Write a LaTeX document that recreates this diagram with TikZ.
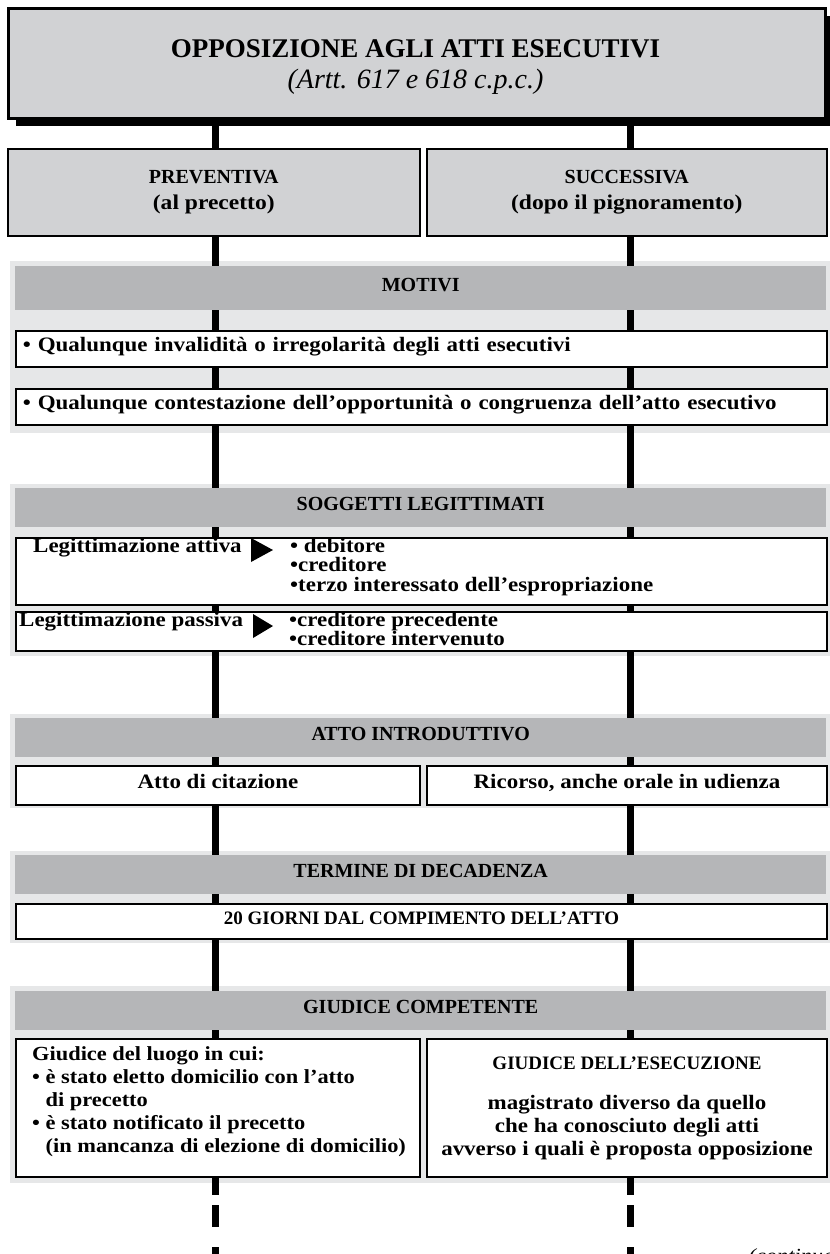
\documentclass[tikz,border=0pt]{standalone}
\usepackage{fontspec}
\setmainfont{Liberation Serif}[FakeStretch=1.12]
\newfontfamily\headfont{Liberation Serif}
\usetikzlibrary{positioning}
\usetikzlibrary{shadows}

\definecolor{titlegray}{HTML}{D1D2D4}
\definecolor{panelgray}{HTML}{E6E7E8}
\definecolor{bargray}{HTML}{B5B6B8}

\pgfdeclarelayer{panels}
\pgfdeclarelayer{lines}
\pgfsetlayers{panels,lines,main}

\begin{document}
\begin{tikzpicture}[x=1pt,y=-1pt,
  every node/.style={font=\bfseries\fontsize{20.5}{23}\selectfont},
  titlebox/.style={draw,line width=2.5pt,fill=titlegray,anchor=north west,
    minimum width=817pt,minimum height=110pt,
    drop shadow={shadow xshift=8pt,shadow yshift=-8pt,opacity=1,fill=black}},
  headbox/.style={draw,line width=1.5pt,fill=titlegray,anchor=north west,
    minimum height=87pt,align=center,font=\bfseries\fontsize{21}{26}\selectfont},
  bar/.style={fill=bargray,anchor=north west,minimum width=811pt,minimum height=39pt,
    font=\headfont\bfseries\fontsize{20}{23}\selectfont},
  whitebox/.style={draw,line width=2pt,fill=white,anchor=north west,minimum height=36pt},
  oneline/.style={text height=1.5ex,text depth=.25ex},
  conn/.style={line width=7pt},
  dashconn/.style={line width=7pt,dash pattern=on 17pt off 10pt on 22pt off 20pt},
  tip/.style={fill=black}
]
\useasboundingbox (0,0) rectangle (830,1254);

% title
\node[titlebox] (titolo) at (7,7) {};
\node[align=center,font=\headfont\bfseries\fontsize{27}{31}\selectfont] (titolotxt) at (415.5,67)
  {OPPOSIZIONE AGLI ATTI ESECUTIVI\\{\mdseries\itshape\fontsize{28}{31}\selectfont (Artt. 617 e 618 c.p.c.)}};

% two kinds
\node[headbox,minimum width=412pt] (prev) at (7,148) {{\headfont\fontsize{20}{26}\selectfont PREVENTIVA}\\(al precetto)};
\node[headbox,minimum width=400pt] (succ) at (426,148) {{\headfont\fontsize{20}{26}\selectfont SUCCESSIVA}\\(dopo il pignoramento)};

% motivi
\node[bar,minimum height=44pt,oneline] (motivi) at (15,266) {MOTIVI};
\node[whitebox,oneline,minimum width=811pt,text width=797pt,align=left] (mot1) at (15,330)
  {• Qualunque invalidità o irregolarità degli atti esecutivi};
\node[whitebox,oneline,minimum width=811pt,text width=797pt,align=left] (mot2) at (15,388)
  {• Qualunque contestazione dell’opportunità o congruenza dell’atto esecutivo};

% soggetti legittimati
\node[bar,oneline] (soggetti) at (15,488) {SOGGETTI LEGITTIMATI};
\node[whitebox,minimum width=811pt,minimum height=67pt] (attiva) at (15,537) {};
\node[whitebox,minimum width=811pt,minimum height=39pt] (passiva) at (15,611) {};
\node[anchor=north west,inner sep=0pt] (attivalbl) at (33,538) {Legittimazione attiva};
\node[anchor=north west,inner sep=0pt,align=left,font=\bfseries\fontsize{20.5}{19.5}\selectfont]
  (attivalist) at (290,538) {• debitore\\•creditore\\•terzo interessato dell’espropriazione};
\node[anchor=north west,inner sep=0pt] (passivalbl) at (19,612) {Legittimazione passiva};
\node[anchor=north west,inner sep=0pt,align=left,font=\bfseries\fontsize{20.5}{19.5}\selectfont]
  (passivalist) at (289,612) {•creditore precedente\\•creditore intervenuto};
\fill[tip] (251,538) -- (273,550) -- (251,562) -- cycle;
\fill[tip] (253,614) -- (273,626) -- (253,638) -- cycle;

% atto introduttivo
\node[bar,oneline] (atto) at (15,718) {ATTO INTRODUTTIVO};
\node[whitebox,oneline,minimum width=404pt,minimum height=39pt] (citazione) at (15,765) {Atto di citazione};
\node[whitebox,oneline,minimum width=400pt,minimum height=39pt] (ricorso) at (426,765) {Ricorso, anche orale in udienza};

% termine di decadenza
\node[bar,oneline] (termine) at (15,855) {TERMINE DI DECADENZA};
\node[whitebox,oneline,minimum width=811pt,minimum height=35pt,font=\headfont\bfseries\fontsize{19}{23}\selectfont] (giorni) at (15,903)
  {20 GIORNI DAL COMPIMENTO DELL’ATTO};

% giudice competente
\node[bar,oneline] (giudice) at (15,991) {GIUDICE COMPETENTE};
\node[whitebox,minimum width=404pt,minimum height=138pt] (giudl) at (15,1038) {};
\node[whitebox,minimum width=400pt,minimum height=138pt] (giudr) at (426,1038) {};
\node[anchor=north west,inner sep=0pt,align=left,font=\bfseries\fontsize{20}{23}\selectfont] (luogo) at (32,1046)
  {Giudice del luogo in cui:\\
   • è stato eletto domicilio con l’atto\\
   \phantom{• }di precetto\\
   • è stato notificato il precetto\\
   \phantom{• }(in mancanza di elezione di domicilio)};
\node[align=center] (esecuzione) at (giudr.center)
  {{\headfont\fontsize{19}{23}\selectfont GIUDICE DELL’ESECUZIONE}\\[17pt]
   magistrato diverso da quello\\
   che ha conosciuto degli atti\\
   avverso i quali è proposta opposizione};

\node[anchor=base west,font=\itshape\mdseries\fontsize{20}{24}\selectfont] (continua) at (745,1262) {(continua)};

% guide lines for the two columns
\coordinate (cl) at (215.5,0);
\coordinate (cr) at (630.5,0);
\coordinate (endl) at (215.5,1280);
\coordinate (endr) at (630.5,1280);

\begin{pgfonlayer}{panels}
\foreach \ytop/\ybot in {261/433,484/656,714/808,851/943,986/1183}
  \fill[panelgray] (10,\ytop) rectangle (830,\ybot);
\end{pgfonlayer}

\begin{pgfonlayer}{lines}
\foreach \c/\e/\g in {cl/endl/giudl,cr/endr/giudr} {
  \draw[conn] (titolo.south -| \c) -- (\g.south -| \c);
  \draw[dashconn] (\g.south -| \c) -- (\e);
}
\end{pgfonlayer}

\end{tikzpicture}
\end{document}
